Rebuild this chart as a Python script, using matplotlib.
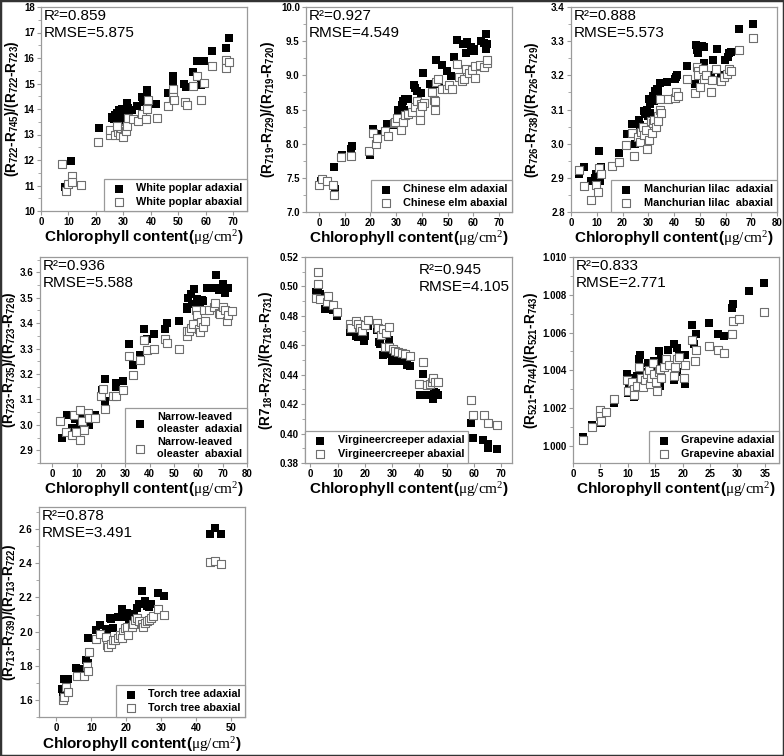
import matplotlib
matplotlib.use("Agg")
import matplotlib.pyplot as plt
from matplotlib.patches import Rectangle
from matplotlib.ticker import MultipleLocator, FormatStrFormatter

plt.rcParams['font.family'] = ['Liberation Sans', 'DejaVu Sans']
plt.rcParams['mathtext.fontset'] = 'custom'
plt.rcParams['mathtext.rm'] = 'Liberation Serif'
plt.rcParams['mathtext.it'] = 'Liberation Serif:italic'
plt.rcParams['mathtext.bf'] = 'Liberation Sans:bold'

# ---- data ----
# White poplar
wp_ad_x = [8.9, 10.9, 11.5, 21, 25.7, 26.5, 27, 27.8, 28.5, 29.5, 30.2, 28.2, 29.3, 30.5, 31.2, 31.3, 31.8, 33, 34.8, 36.7, 37.3, 38.5, 38.7, 41.9, 46.1, 48.2, 48.2, 48, 52, 52.7, 55.2, 56.7, 59.3, 58.3, 62.4, 67.4, 68.6, 26, 27.5, 29, 30]
wp_ad_y = [10.93, 11.95, 11.2, 13.27, 13.66, 13.6, 13.75, 13.85, 13.95, 14.0, 13.9, 13.55, 13.7, 13.65, 14.25, 14.1, 14.05, 13.95, 14.13, 14.47, 14.27, 14.76, 14.6, 14.2, 14.64, 15.28, 15.12, 15.03, 14.98, 14.88, 15.44, 15.87, 15.87, 14.95, 16.27, 16.39, 16.8, 13.7, 13.5, 13.85, 13.55]
wp_ab_x = [7.5, 9, 10, 11.2, 11.2, 14.6, 20.9, 25.1, 25.3, 27, 28.2, 28.8, 30, 29.3, 27.5, 30.5, 31, 31.4, 31.7, 33.4, 35.2, 36.7, 38.1, 38.7, 38.8, 42.1, 46.4, 48, 48.2, 48.3, 52.4, 53, 55.2, 56.7, 58.3, 59.5, 62.4, 67.4, 67.4, 68.6]
wp_ab_y = [11.84, 10.8, 11.07, 11.37, 11.14, 11.03, 12.72, 12.97, 13.16, 12.97, 13.1, 12.97, 12.92, 13.25, 13.35, 13.2, 13.15, 13.35, 13.65, 13.6, 13.53, 13.8, 13.6, 13.99, 14.34, 13.66, 14.1, 14.77, 14.47, 14.34, 14.27, 14.14, 14.91, 15.29, 14.34, 15.02, 15.67, 15.93, 15.6, 15.84]

# Chinese elm
ce_ad_x = [1, 5.9, 6.2, 8.8, 12.5, 12.8, 19.9, 21.2, 22.5, 26.4, 29, 30.7, 32.2, 32.7, 33.5, 34.8, 33, 36.8, 37.5, 38.2, 39.5, 40.4, 43.3, 44, 44.2, 45.5, 46.5, 47.9, 49.8, 51.4, 52.4, 53.8, 55.8, 57.4, 57, 59, 60.4, 60.2, 63, 64, 64.8, 65.3, 65]
ce_ad_y = [7.46, 7.66, 7.34, 7.84, 7.92, 7.96, 7.84, 8.22, 8.14, 8.29, 8.27, 8.5, 8.56, 8.62, 8.65, 8.66, 8.5, 8.86, 8.82, 8.77, 8.74, 9.04, 8.87, 8.82, 8.75, 9.23, 8.87, 9.15, 9.06, 8.99, 9.27, 9.52, 9.46, 9.49, 9.32, 9.42, 9.39, 9.36, 9.5, 9.48, 9.38, 9.46, 9.6]
ce_ab_x = [0, 1.4, 3, 5.3, 6, 8.6, 12.5, 19.6, 21.2, 22.1, 22.5, 25.7, 26.7, 29, 29.4, 30.3, 32, 32.7, 33.5, 34.8, 36, 37.5, 38.1, 39.4, 39.8, 40.7, 39.4, 40, 44, 44.6, 45, 45.2, 45.6, 46.2, 47.9, 49.8, 50.4, 51.7, 53.8, 54.4, 55.4, 56.3, 57.2, 58.2, 59.5, 60.7, 62.6, 64.3, 65.2, 65.2, 60.5]
ce_ab_y = [7.39, 7.48, 7.45, 7.4, 7.25, 7.81, 7.82, 7.89, 8.15, 8.0, 8.08, 8.19, 8.11, 8.3, 8.31, 8.38, 8.2, 8.32, 8.42, 8.44, 8.47, 8.53, 8.62, 8.46, 8.58, 8.6, 8.35, 8.55, 8.76, 8.64, 8.5, 8.62, 8.9, 8.95, 8.8, 8.8, 8.86, 8.8, 9.16, 8.98, 8.92, 8.95, 9.1, 9.03, 9.08, 9.13, 9.15, 9.12, 9.18, 9.22, 8.96]

# Manchurian lilac
ml_ad_x = [3.2, 5.2, 7.8, 9.3, 9.6, 10.9, 11.5, 11.3, 18.7, 21.7, 23.6, 24.9, 26.5, 26.8, 28.5, 28.8, 29.4, 29.8, 30.7, 30.4, 30.8, 32, 32.2, 32.7, 33.3, 33.9, 34.4, 37.2, 40.5, 41.1, 40.8, 45, 48.5, 48.9, 49.2, 50.9, 51.5, 48.2, 51.5, 51.5, 54.5, 55, 56.7, 58.4, 59.9, 60.8, 61.5, 62.3, 65.4, 70.6]
ml_ad_y = [2.91, 2.932, 2.89, 2.9, 2.91, 2.978, 2.932, 2.89, 2.973, 3.027, 3.058, 2.998, 3.068, 3.055, 3.095, 3.088, 3.1, 3.08, 3.09, 3.13, 3.115, 3.14, 3.126, 3.155, 3.16, 3.155, 3.178, 3.18, 3.19, 3.2, 3.195, 3.228, 3.29, 3.275, 3.264, 3.286, 3.283, 3.176, 3.235, 3.21, 3.2, 3.246, 3.278, 3.2, 3.245, 3.255, 3.265, 3.268, 3.337, 3.351]
ml_ab_x = [3.1, 5.2, 7.8, 9.6, 10.4, 10.9, 11.5, 15.8, 18.7, 21.3, 23.6, 24.6, 26.2, 26.8, 27.2, 28.1, 28.5, 29.2, 29.4, 30.1, 31.1, 31.4, 32, 32.4, 33, 33.9, 33.9, 34.6, 34.4, 35, 37.5, 40.2, 40.7, 41.4, 45, 48.2, 48.9, 49.2, 49.3, 50.2, 51.2, 51.8, 52.5, 54.3, 54.7, 56.5, 58.2, 59.5, 60.5, 61.5, 62.3, 65.4, 70.6]
ml_ab_y = [2.922, 2.875, 2.834, 2.878, 2.86, 2.93, 2.91, 2.935, 2.946, 2.995, 3.03, 2.963, 3.02, 3.005, 3.035, 3.05, 3.025, 3.04, 2.985, 3.012, 3.065, 3.03, 3.06, 3.07, 3.05, 3.08, 3.065, 3.13, 3.1, 3.09, 3.13, 3.135, 3.15, 3.14, 3.19, 3.148, 3.223, 3.213, 3.2, 3.165, 3.22, 3.188, 3.2, 3.15, 3.186, 3.22, 3.183, 3.196, 3.205, 3.22, 3.213, 3.275, 3.31]

# Narrow-leaved oleaster
no_ad_x = [3.9, 5.9, 8, 9.4, 11.4, 12.7, 15.2, 17.7, 20.3, 21.8, 21.7, 26.2, 26.2, 29, 31.7, 33.1, 35.9, 37.7, 39, 41.7, 46.5, 47.3, 52, 55.2, 55.4, 55.9, 56.8, 57.5, 58.2, 59.3, 60, 60.7, 61.4, 62.1, 63.7, 65.5, 67.3, 68.3, 69, 70, 71, 72.4, 67.4, 68.5]
no_ad_y = [2.949, 3.038, 2.986, 3.024, 2.995, 3.024, 2.999, 3.038, 3.138, 3.182, 3.093, 3.15, 3.164, 3.173, 3.318, 3.236, 3.275, 3.378, 3.336, 3.357, 3.378, 3.402, 3.408, 3.455, 3.465, 3.5, 3.515, 3.475, 3.535, 3.495, 3.49, 3.475, 3.492, 3.487, 3.54, 3.54, 3.54, 3.53, 3.537, 3.553, 3.52, 3.54, 3.59, 3.54]
no_ab_x = [3.4, 5.5, 8, 9, 9.9, 11.3, 11.3, 12.1, 13.1, 14.9, 15.2, 17.7, 20, 20.7, 21.8, 24.8, 26.2, 29, 31.7, 33.1, 35.9, 37.7, 39, 41.7, 46.5, 47.3, 52, 55.2, 55.4, 56.2, 57.2, 57.9, 58.9, 59.6, 60.4, 61.1, 60.7, 61.8, 62.3, 62.8, 64.6, 66.3, 66.9, 68.3, 68.9, 70.3, 71, 71.7, 72.4, 74]
no_ab_y = [3.016, 2.97, 2.96, 3.04, 2.97, 3.058, 2.94, 3.016, 2.98, 3.048, 3.028, 3.028, 3.112, 3.14, 3.063, 3.115, 3.115, 3.138, 3.27, 3.195, 3.256, 3.333, 3.294, 3.3, 3.336, 3.32, 3.3, 3.35, 3.37, 3.37, 3.38, 3.395, 3.45, 3.43, 3.378, 3.405, 3.365, 3.385, 3.45, 3.41, 3.45, 3.465, 3.478, 3.44, 3.435, 3.465, 3.45, 3.408, 3.43, 3.448]

# Virgineercreeper
vc_ad_x = [2, 2.8, 3.4, 5.3, 5.9, 5.5, 8.1, 9.9, 14.5, 16.9, 17.5, 17.9, 19.3, 19.9, 19.7, 21.2, 24.6, 25, 25.5, 26.7, 27.6, 28.6, 29.2, 28.9, 29.8, 31, 32.2, 33.8, 35.3, 36.5, 40.1, 41.2, 42.7, 44.2, 44.9, 45.3, 46.2, 47, 59, 59.6, 63.5, 65.1, 65.3, 68.4]
vc_ad_y = [0.4963, 0.497, 0.4947, 0.4913, 0.492, 0.485, 0.4842, 0.4799, 0.4688, 0.466, 0.4655, 0.4675, 0.4668, 0.466, 0.4632, 0.4733, 0.4706, 0.4624, 0.4612, 0.4534, 0.4545, 0.4538, 0.4545, 0.4637, 0.449, 0.4495, 0.45, 0.449, 0.4465, 0.446, 0.426, 0.4408, 0.4262, 0.4265, 0.4236, 0.4285, 0.4275, 0.4262, 0.407, 0.3972, 0.3956, 0.3926, 0.3903, 0.3896]
vc_ab_x = [2.6, 2.6, 2, 3.4, 5.9, 6.5, 8.1, 9.9, 14.5, 14.8, 16.9, 17.5, 18.1, 18.8, 20, 21.2, 24.6, 24.9, 25.9, 26.7, 27.6, 28.9, 28.6, 27.5, 29, 30.4, 31, 32.2, 33.5, 34.6, 36.5, 41.2, 40, 42.7, 43.9, 44.7, 45.1, 45.7, 46.7, 59, 59.5, 63.7, 65.1, 68.4]
vc_ab_y = [0.5097, 0.5017, 0.4924, 0.4913, 0.4895, 0.4935, 0.4874, 0.4828, 0.4745, 0.472, 0.4762, 0.4745, 0.4718, 0.47, 0.4736, 0.4775, 0.4752, 0.4718, 0.4668, 0.4714, 0.4684, 0.4723, 0.459, 0.459, 0.4585, 0.4574, 0.456, 0.4553, 0.4546, 0.454, 0.4525, 0.4484, 0.4339, 0.433, 0.4334, 0.4348, 0.4375, 0.4348, 0.4352, 0.4229, 0.4128, 0.4128, 0.4075, 0.4057]

# Grapevine
gv_ad_x = [1.8, 3.5, 4.9, 5.2, 7.5, 9.9, 10.2, 10.1, 11.1, 11.1, 11.4, 11.6, 11.7, 12.2, 12.1, 12.7, 13, 13.6, 13.9, 14.2, 14.5, 14.8, 15.1, 15.4, 15.7, 15.8, 16, 17.3, 18.4, 18.9, 19.3, 19, 18.4, 20.5, 20.4, 21.8, 22.1, 22.5, 24.8, 26.5, 27.5, 29.1, 29.2, 32.1, 34.9]
gv_ad_y = [1.0005, 1.0011, 1.0017, 1.0012, 1.0023, 1.0038, 1.0031, 1.0028, 1.0036, 1.0026, 1.0034, 1.0037, 1.0032, 1.0048, 1.0046, 1.0038, 1.0039, 1.0044, 1.0035, 1.0033, 1.0044, 1.0045, 1.0042, 1.0040, 1.005, 1.0032, 1.0046, 1.0051, 1.0054, 1.0052, 1.0048, 1.0039, 1.0035, 1.0048, 1.0033, 1.0064, 1.0054, 1.0059, 1.0065, 1.0059, 1.0058, 1.0073, 1.0075, 1.0082, 1.0086]
gv_ab_x = [1.8, 3.5, 4.9, 5, 5.2, 6.1, 7.5, 9.8, 10.1, 10.7, 11.1, 11.1, 11.7, 12.1, 12.4, 12.7, 13.2, 13.5, 13.8, 14.1, 14.3, 14.6, 14.8, 15.1, 15.4, 15.7, 15.9, 16.1, 16.6, 17, 17.5, 18.4, 18.7, 19, 19.3, 20.3, 20.4, 21.8, 22.3, 22.4, 24.8, 26.5, 27.5, 29.1, 29.2, 30.3, 34.9]
gv_ab_y = [1.0003, 1.001, 1.0019, 1.0016, 1.0013, 1.0018, 1.0025, 1.0035, 1.0029, 1.0034, 1.003, 1.0027, 1.0032, 1.0042, 1.0036, 1.0031, 1.0035, 1.0038, 1.004, 1.0033, 1.0036, 1.0044, 1.0038, 1.0034, 1.0029, 1.0039, 1.0041, 1.0036, 1.0042, 1.0046, 1.0043, 1.0037, 1.0042, 1.0046, 1.0047, 1.0036, 1.0043, 1.0056, 1.0045, 1.0051, 1.0053, 1.0051, 1.0049, 1.0059, 1.0066, 1.0067, 1.0071]

# Torch tree
tt_ad_x = [1.6, 1.9, 2.3, 3, 3.3, 5.7, 7.8, 8.5, 8.9, 9, 11.4, 12.5, 14.2, 14.6, 15.4, 15.7, 16.3, 17.6, 18.2, 18.7, 19.2, 19.8, 20.3, 21.1, 20.1, 20.8, 22.3, 23.2, 23.7, 24.4, 25.3, 25.8, 26.6, 27.2, 29.1, 30.8, 44, 45.3, 47.2]
tt_ad_y = [1.662, 1.643, 1.72, 1.718, 1.722, 1.789, 1.781, 1.835, 1.818, 1.96, 2.01, 2.037, 2.016, 2.0, 2.079, 2.072, 2.02, 2.085, 2.085, 2.13, 2.09, 2.085, 2.11, 2.105, 2.085, 2.068, 2.095, 2.14, 2.16, 2.24, 2.18, 2.15, 2.145, 2.16, 2.226, 2.207, 2.57, 2.608, 2.57]
tt_ab_x = [1.8, 2.1, 2.75, 3.3, 5.9, 7.8, 8.7, 8.9, 9.2, 11.3, 12.5, 14.2, 14.6, 14.9, 15.7, 16.3, 16.8, 17.6, 18.2, 19, 19.7, 20.1, 18.7, 20.4, 21.5, 22, 22.5, 23.2, 23.7, 24.4, 24.9, 25.5, 26, 26.6, 27.2, 27.7, 29.1, 30.8, 44, 45.3, 47.2]
tt_ab_y = [1.6, 1.62, 1.675, 1.647, 1.742, 1.738, 1.797, 1.772, 1.883, 1.954, 1.988, 1.97, 1.92, 1.91, 1.93, 1.95, 1.95, 1.96, 1.98, 2.0, 2.02, 2.03, 1.96, 1.98, 2.03, 2.045, 2.07, 2.08, 2.06, 2.045, 2.03, 2.05, 2.06, 2.07, 2.08, 2.09, 2.13, 2.096, 2.41, 2.415, 2.395]

XLABEL = "Chlorophyll content($\\mathrm{μg/cm^2}$)"


def ylab(a, b, c, d, first="R"):
    return ("(" + first + "$_{\\mathbf{" + a + "}}$-R$_{\\mathbf{" + b + "}}$)/(R$_{\\mathbf{"
            + c + "}}$-R$_{\\mathbf{" + d + "}}$)")


fig = plt.figure(figsize=(7.84, 7.56), dpi=100)
W, H = 784.0, 756.0


def panel(box, xs_ad, ys_ad, xs_ab, ys_ab, names, ylabel, ylab_x, stats,
          xlim, ylim, xstep, ystep, yfmt, leg_loc="lower right", stat_pos="left"):
    left, right, top, bottom = box
    ax = fig.add_axes([left / W, 1 - bottom / H, (right - left) / W, (bottom - top) / H])
    ax.scatter(xs_ad, ys_ad, marker="s", s=32, c="black", linewidths=0, label=names[0], zorder=3)
    ax.scatter(xs_ab, ys_ab, marker="s", s=28, facecolors="white", edgecolors="#6e6e6e",
               linewidths=0.8, label=names[1], zorder=4)
    ax.set_xlim(*xlim)
    ax.set_ylim(*ylim)
    ax.xaxis.set_major_locator(MultipleLocator(xstep))
    ax.yaxis.set_major_locator(MultipleLocator(ystep))
    ax.yaxis.set_minor_locator(MultipleLocator(ystep / 2))
    ax.yaxis.set_major_formatter(FormatStrFormatter(yfmt))
    for s in ax.spines.values():
        s.set_color("#9a9a9a")
        s.set_linewidth(0.9)
    ax.tick_params(which="both", direction="out", color="#9a9a9a", labelsize=7, pad=1.5)
    ax.tick_params(which="major", length=3)
    ax.tick_params(which="minor", length=2)
    for lab in ax.get_xticklabels() + ax.get_yticklabels():
        lab.set_fontweight("bold")
    ax.set_xlabel(XLABEL, fontsize=11, fontweight="bold")
    ax.xaxis.set_label_coords(0.5, -0.085)
    ax.set_ylabel(ylabel, fontsize=9.8, fontweight="bold")
    ax.yaxis.set_label_coords(ylab_x, 0.5)
    if stat_pos == "left":
        ax.text(0.015, 0.99, stats, transform=ax.transAxes, ha="left", va="top",
                fontsize=11, linespacing=1.25)
    else:
        ax.text(0.55, 0.97, stats, transform=ax.transAxes, ha="left", va="top",
                fontsize=11, linespacing=1.25)
    leg = ax.legend(loc=leg_loc, borderaxespad=0, fancybox=False, framealpha=1,
                    prop={"weight": "bold", "size": 7.8}, handletextpad=0.6,
                    labelspacing=0.3, borderpad=0.4, scatterpoints=1)
    leg.get_frame().set_edgecolor("#9a9a9a")
    leg.get_frame().set_linewidth(0.9)
    return ax


panel((41, 247, 7, 211), wp_ad_x, wp_ad_y, wp_ab_x, wp_ab_y,
      ["White poplar adaxial", "White poplar abaxial"], ylab("722", "745", "722", "723"), -0.095,
      "R²=0.859\nRMSE=5.875", (0, 75), (10, 18), 10, 1, "%d")

panel((306, 512, 7, 212), ce_ad_x, ce_ad_y, ce_ab_x, ce_ab_y,
      ["Chinese elm adaxial", "Chinese elm abaxial"], ylab("719", "729", "719", "720"), -0.143,
      "R²=0.927\nRMSE=4.549", (-5, 75), (7, 10), 10, 0.5, "%.1f")

panel((571, 777, 7, 212), ml_ad_x, ml_ad_y, ml_ab_x, ml_ab_y,
      ["Manchurian lilac  adaxial", "Manchurian lilac  abaxial"], ylab("726", "738", "726", "729"), -0.148,
      "R²=0.888\nRMSE=5.573", (0, 80), (2.8, 3.4), 10, 0.1, "%.1f")

panel((40, 247, 257, 463), no_ad_x, no_ad_y, no_ab_x, no_ab_y,
      ["Narrow-leaved\noleaster  adaxial", "Narrow-leaved\noleaster  abaxial"],
      ylab("723", "735", "723", "726"), -0.108,
      "R²=0.936\nRMSE=5.588", (-5, 80), (2.85, 3.66), 10, 0.1, "%.1f")

panel((305, 512, 257, 463), vc_ad_x, vc_ad_y, vc_ab_x, vc_ab_y,
      ["Virgineercreeper adaxial", "Virgineercreeper abaxial"],
      ylab("18", "723", "718", "731", first="R7"), -0.143,
      "R²=0.945\nRMSE=4.105", (-2, 74), (0.38, 0.52), 10, 0.02, "%.2f",
      leg_loc="lower left", stat_pos="right")

panel((573, 779, 257, 463), gv_ad_x, gv_ad_y, gv_ab_x, gv_ab_y,
      ["Grapevine adaxial", "Grapevine abaxial"], ylab("521", "744", "521", "743"), -0.158,
      "R²=0.833\nRMSE=2.771", (0, 37.6), (0.9991, 1.010), 5, 0.002, "%.3f")

panel((39, 245, 507, 717), tt_ad_x, tt_ad_y, tt_ab_x, tt_ab_y,
      ["Torch tree adaxial", "Torch tree abaxial"], ylab("713", "739", "713", "722"), -0.104,
      "R²=0.878\nRMSE=3.491", (-5, 54), (1.5, 2.73), 10, 0.2, "%.1f")

# outer frame of the whole figure
fig.patches.append(Rectangle((0, 0), 1, 1, transform=fig.transFigure, fill=False,
                             edgecolor="#333333", linewidth=2.5))

fig.savefig("out.png", dpi=100)
